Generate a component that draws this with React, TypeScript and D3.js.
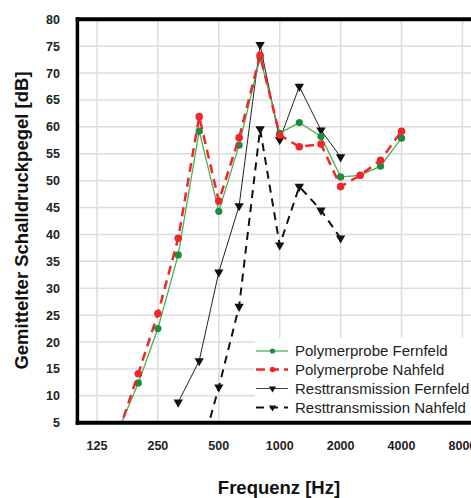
import React from 'react';
import * as d3 from 'd3';

// Terzband-Mittenfrequenzen [Hz]
const freqs = [160, 200, 250, 315, 400, 500, 630, 800, 1000, 1250, 1600, 2000, 2500, 3150, 4000];
const polyFern = [3.7, 12.4, 22.5, 36.2, 59.2, 44.3, 56.6, 72.9, 58.8, 60.8, 58.2, 50.7, 51.0, 52.7, 57.9];
const polyNah = [3.3, 14.1, 25.3, 39.3, 61.9, 46.2, 58.0, 73.3, 58.5, 56.3, 56.8, 48.9, 51.0, 53.8, 59.2];
const restFreqs = [315, 400, 500, 630, 800, 1000, 1250, 1600, 2000];
const restFern = [8.8, 16.5, 33.0, 45.3, 75.3, 57.6, 67.5, 59.4, 54.4];
const restNahFreqs = [400, 500, 630, 800, 1000, 1250, 1600, 2000];
const restNah = [-1.6, 11.6, 26.6, 59.6, 38.0, 48.9, 44.5, 39.3];

const xTicks = [125, 250, 500, 1000, 2000, 4000, 8000];
const yTicks = d3.range(5, 81, 5);
const legendNames = ['Polymerprobe Fernfeld', 'Polymerprobe Nahfeld', 'Resttransmission Fernfeld', 'Resttransmission Nahfeld'];

const W = 471, H = 498;
const left = 77.4, top = 19.3, bottom = 422.7, right = 482;
const font = '"Liberation Sans", Arial, sans-serif';

const x = d3.scaleLog().domain([100, 10000]).range([left, right]);
const y = d3.scaleLinear().domain([5, 80]).range([bottom, top]);

const green = '#4caf50', greenDot = '#1b8e3d', red = '#f0262b', black = '#111';

type Pt = [number, number];
const zip = (f: number[], v: number[]): Pt[] => f.map((d, i) => [d, v[i]]);
const line = d3.line<Pt>().x(d => x(d[0])).y(d => y(d[1]));
const tri = d3.symbol().type(d3.symbolTriangle).size(38)();

function Tri({ cx, cy }: { cx: number; cy: number }) {
  return <path d={tri!} transform={`translate(${cx},${cy}) rotate(180)`} fill={black} />;
}

export default function App() {
  const s1 = zip(freqs, polyFern);
  const s2 = zip(freqs, polyNah);
  const s3 = zip(restFreqs, restFern);
  const s4 = zip(restNahFreqs, restNah);
  const legX = 256, legY = [351, 369.5, 388.5, 407.5];
  return (
    <div style={{ position: 'absolute', left: 0, top: 0 }}>
      <svg width={W} height={H} style={{ display: 'block', background: '#fff' }}>
        <defs>
          <clipPath id="plot">
            <rect x={left} y={top} width={right - left} height={bottom - top} />
          </clipPath>
        </defs>
        {/* grid */}
        {yTicks.map(t => (
          <line key={'gy' + t} x1={left} x2={W} y1={y(t)} y2={y(t)} stroke="#dcdcdc" strokeWidth={1.5} />
        ))}
        {xTicks.map(t => (
          <line key={'gx' + t} x1={x(t)} x2={x(t)} y1={top} y2={bottom} stroke="#dcdcdc" strokeWidth={1.5} />
        ))}

        <g clipPath="url(#plot)">
          <path d={line(s4)!} fill="none" stroke={black} strokeWidth={2} strokeDasharray="8,6" />
          {s4.map((d, i) => <Tri key={'m4' + i} cx={x(d[0])} cy={y(d[1])} />)}
          <path d={line(s3)!} fill="none" stroke="#222" strokeWidth={1} />
          {s3.map((d, i) => <Tri key={'m3' + i} cx={x(d[0])} cy={y(d[1])} />)}
          <path d={line(s1)!} fill="none" stroke={green} strokeWidth={1.3} />
          {s1.map((d, i) => <circle key={'m1' + i} cx={x(d[0])} cy={y(d[1])} r={3.6} fill={greenDot} />)}
          <path d={line(s2)!} fill="none" stroke={red} strokeWidth={2.5} strokeDasharray="9,6" />
          {s2.map((d, i) => <circle key={'m2' + i} cx={x(d[0])} cy={y(d[1])} r={3.8} fill={red} />)}
        </g>

        {/* legend */}
        <rect x={255} y={338} width={W - 255} height={bottom - 338} fill="#fff" />
        {legendNames.map((n, i) => {
          const ly = legY[i];
          return (
            <g key={n}>
              {i === 0 && <line x1={legX} x2={legX + 32} y1={ly} y2={ly} stroke={green} strokeWidth={1.3} />}
              {i === 0 && <circle cx={legX + 16.5} cy={ly} r={2.6} fill={greenDot} />}
              {i === 1 && <line x1={legX} x2={legX + 32} y1={ly} y2={ly} stroke={red} strokeWidth={2.5} strokeDasharray="9,5" />}
              {i === 1 && <circle cx={legX + 16.5} cy={ly} r={2.8} fill={red} />}
              {i === 2 && <line x1={legX} x2={legX + 32} y1={ly} y2={ly} stroke="#444" strokeWidth={1} />}
              {i === 3 && <line x1={legX} x2={legX + 32} y1={ly} y2={ly} stroke={black} strokeWidth={2} strokeDasharray="8,6" />}
              {i >= 2 && <path d={d3.symbol().type(d3.symbolTriangle).size(22)()!} transform={`translate(${legX + 16.5},${ly}) rotate(180)`} fill={black} />}
              <text x={295} y={ly} dy="0.36em" fontFamily={font} fontSize={15} fill="#222">{n}</text>
            </g>
          );
        })}

        {/* axes frame */}
        <line x1={left} x2={left} y1={top - 2} y2={bottom + 2} stroke="#000" strokeWidth={3.5} />
        <line x1={left - 1.7} x2={W} y1={top} y2={top} stroke="#000" strokeWidth={4} />
        <line x1={left - 1.7} x2={W} y1={bottom} y2={bottom} stroke="#000" strokeWidth={4} />

        {/* tick labels */}
        {yTicks.map(t => (
          <text key={'ty' + t} x={60} y={y(t)} dy="0.36em" textAnchor="end" fontFamily={font} fontSize={12.5} fontWeight="bold" fill="#222">{t}</text>
        ))}
        {xTicks.map(t => (
          <text key={'tx' + t} x={x(t)} y={449.5} textAnchor="middle" fontFamily={font} fontSize={12.5} fontWeight="bold" fill="#222">{t}</text>
        ))}

        {/* axis titles */}
        <text x={279} y={494} textAnchor="middle" fontFamily={font} fontSize={18.5} fontWeight="bold" fill="#111">Frequenz [Hz]</text>
        <text transform={`translate(28,220.5) rotate(-90)`} textAnchor="middle" fontFamily={font} fontSize={18.5} fontWeight="bold" fill="#111">Gemittelter Schalldruckpegel [dB]</text>
      </svg>
    </div>
  );
}
